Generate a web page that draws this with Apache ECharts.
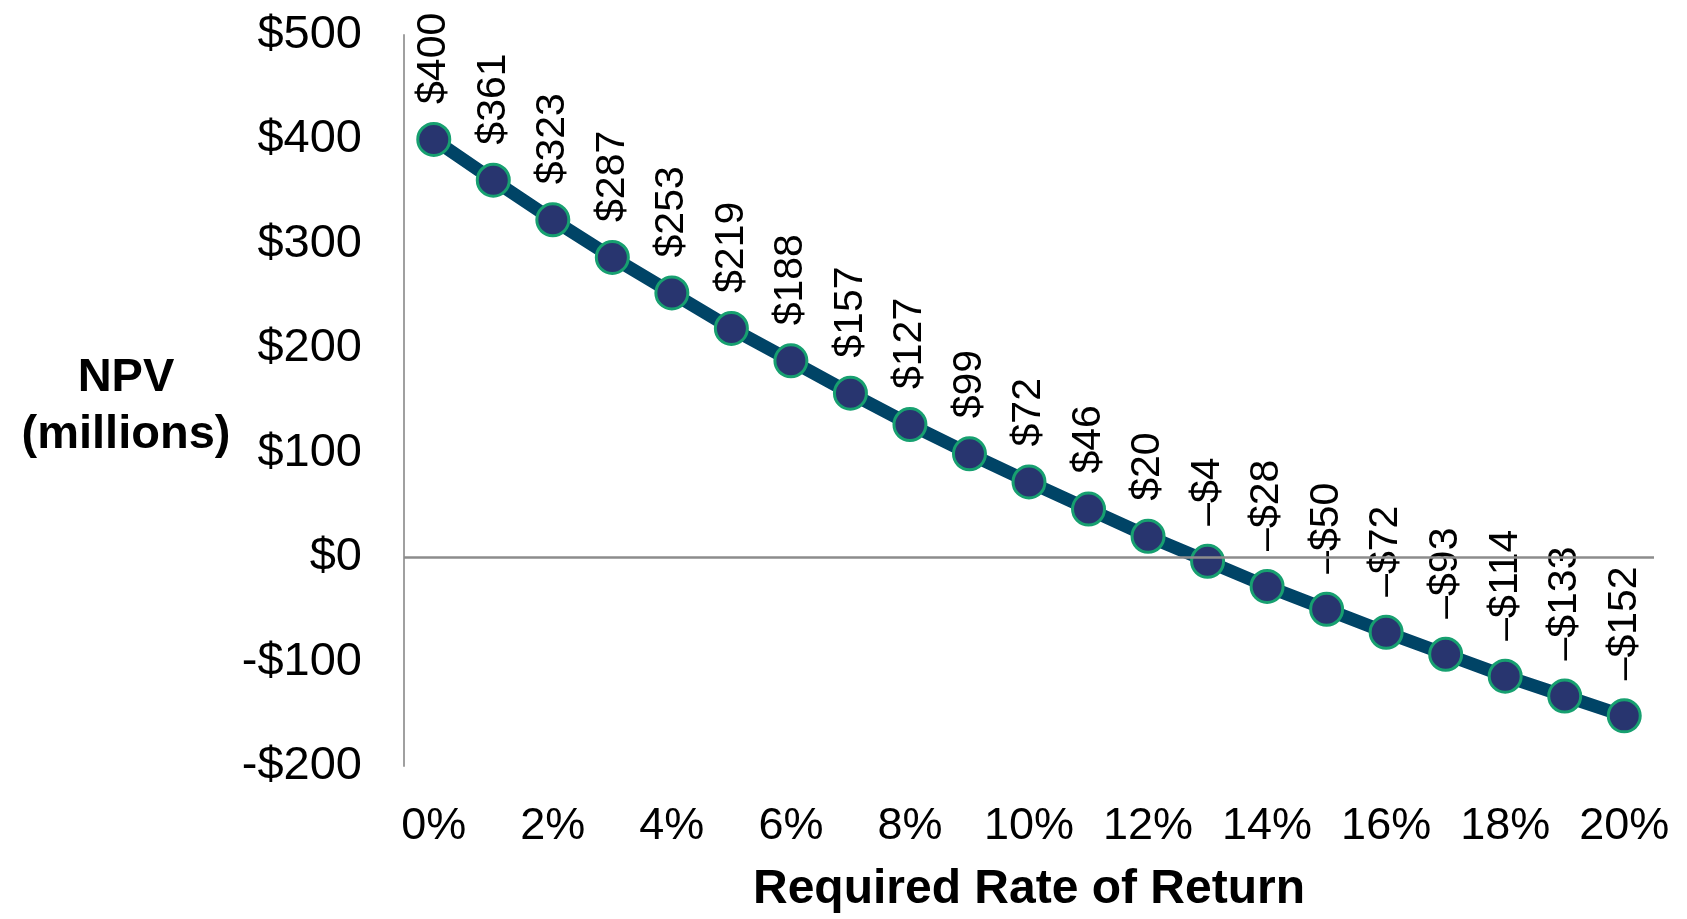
<!DOCTYPE html>
<html>
<head>
<meta charset="utf-8">
<script src="https://cdn.jsdelivr.net/npm/echarts@6/dist/echarts.min.js"></script>
<style>
  html, body { margin: 0; padding: 0; background: #fff; }
  #main { width: 1687px; height: 919px; }
</style>
</head>
<body>
<div id="main"></div>
<script>
// rates 0%..20%
const rates = ['0%','1%','2%','3%','4%','5%','6%','7%','8%','9%','10%',
               '11%','12%','13%','14%','15%','16%','17%','18%','19%','20%'];
// NPV in millions
const npv = [400, 361, 323, 287, 253, 219, 188, 157, 127, 99, 72,
             46, 20, -4, -28, -50, -72, -93, -114, -133, -152];

const yMin = -200, yMax = 500, yStep = 100;

const font = '"Liberation Sans", Arial, sans-serif';

const chart = echarts.init(document.getElementById('main'));

chart.setOption({
  animation: false,
  textStyle: { fontFamily: font, color: '#000' },
  title: {
    text: 'NPV\n(millions)',
    left: 121,
    top: 345,
    textAlign: 'center',
    textStyle: {
      fontFamily: font,
      fontSize: 47,
      fontWeight: 'bold',
      lineHeight: 57,
      color: '#000'
    }
  },
  grid: { left: 404, right: 33, top: 35, bottom: 146 },
  xAxis: {
    type: 'category',
    data: rates,
    boundaryGap: true,
    axisLine: { show: false },
    axisTick: { show: false },
    axisLabel: {
      interval: 1,
      fontSize: 45,
      margin: 38,
      color: '#000',
      fontFamily: font
    },
    name: 'Required Rate of Return',
    nameLocation: 'middle',
    nameGap: 100,
    nameTextStyle: {
      fontSize: 48,
      fontWeight: 'bold',
      color: '#000',
      fontFamily: font
    }
  },
  yAxis: {
    type: 'value',
    min: yMin,
    max: yMax,
    interval: yStep,
    axisLine: { show: true, lineStyle: { color: '#a0a0a0', width: 2 } },
    axisTick: { show: false },
    splitLine: { show: false },
    axisLabel: {
      fontSize: 47,
      margin: 42,
      color: '#000',
      fontFamily: font,
      formatter: v => (v < 0 ? '-$' + Math.abs(v) : '$' + v)
    }
  },
  series: [{
    type: 'line',
    data: npv,
    symbol: 'circle',
    symbolSize: 32,
    lineStyle: { color: '#004466', width: 13 },
    itemStyle: { color: '#28356f', borderColor: '#17a070', borderWidth: 3 },
    label: {
      show: true,
      position: 'top',
      distance: 18,
      rotate: 90,
      align: 'left',
      verticalAlign: 'middle',
      fontSize: 41,
      color: '#000',
      fontFamily: font,
      formatter: p => (p.value < 0 ? '\u2013$' + Math.abs(p.value) : '$' + p.value)
    },
    markLine: {
      silent: true,
      symbol: 'none',
      label: { show: false },
      lineStyle: { color: '#8c8c8c', width: 2.5, type: 'solid' },
      data: [{ yAxis: 0 }]
    },
    z: 3
  }]
});
</script>
</body>
</html>
